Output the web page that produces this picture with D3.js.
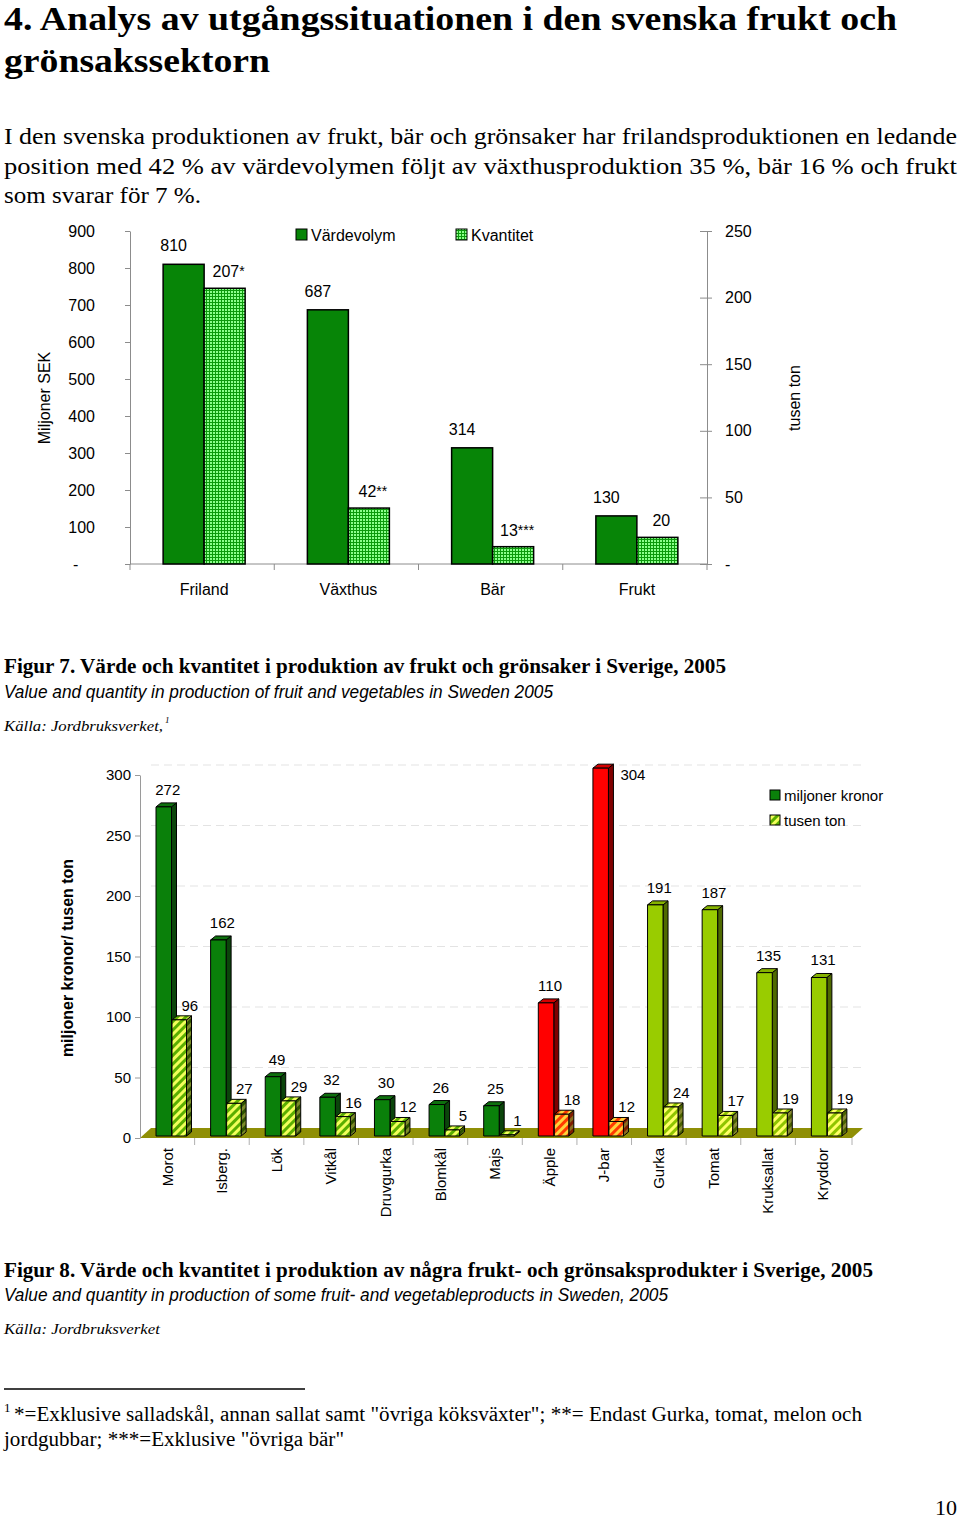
<!DOCTYPE html>
<html><head><meta charset="utf-8">
<script src="https://cdn.jsdelivr.net/npm/d3@7"></script>
<style>body{margin:0;background:#fff}svg{display:block}</style>
</head><body>
<script>
// ---------- text ----------
const titleLines = ["4. Analys av utgångssituationen i den svenska frukt och", "grönsakssektorn"];
const introLines = ["I den svenska produktionen av frukt, bär och grönsaker har frilandsproduktionen en ledande",
  "position med 42 % av värdevolymen följt av växthusproduktion 35 %, bär 16 % och frukt",
  "som svarar för 7 %."];
const caption1 = ["Figur 7. Värde och kvantitet i produktion av frukt och grönsaker i Sverige, 2005",
  "Value and quantity in production of fruit and vegetables in Sweden 2005", "Källa: Jordbruksverket,"];
const caption2 = ["Figur 8. Värde och kvantitet i produktion av några frukt- och grönsaksprodukter i Sverige, 2005",
  "Value and quantity in production of some fruit- and vegetableproducts in Sweden, 2005", "Källa: Jordbruksverket"];
const footnoteLines = ["*=Exklusive salladskål, annan sallat samt \"övriga köksväxter\"; **= Endast Gurka, tomat, melon och",
  "jordgubbar; ***=Exklusive \"övriga bär\""];

// ---------- chart 1 data ----------
const cats1 = ["Friland", "Växthus", "Bär", "Frukt"];
const value1 = [810, 687, 314, 130];
const qty1 = [207, 42, 13, 20];
const qtyNotes1 = ["*", "**", "***", ""];
const leftTicks1 = [0, 100, 200, 300, 400, 500, 600, 700, 800, 900];
const rightTicks1 = [0, 50, 100, 150, 200, 250];
const series1 = ["Värdevolym", "Kvantitet"];

// ---------- chart 2 data ----------
const cats2 = ["Morot", "Isberg.", "Lök", "Vitkål", "Druvgurka", "Blomkål", "Majs", "Äpple", "J-bar", "Gurka", "Tomat", "Kruksallat", "Kryddor"];
const value2 = [272, 162, 49, 32, 30, 26, 25, 110, 304, 191, 187, 135, 131];
const qty2 = [96, 27, 29, 16, 12, 5, 1, 18, 12, 24, 17, 19, 19];
const group2 = ["friland", "friland", "friland", "friland", "friland", "friland", "friland", "frukt", "frukt", "vaxthus", "vaxthus", "vaxthus", "vaxthus"];
const ticks2 = [0, 50, 100, 150, 200, 250, 300];
const series2 = ["miljoner kronor", "tusen ton"];

const W = 960, H = 1521;
const SERIF = "'Liberation Serif','Times New Roman',serif";
const SANS = "'Liberation Sans',Arial,sans-serif";

const svg = d3.select("body").append("svg").attr("width", W).attr("height", H)
  .attr("viewBox", `0 0 ${W} ${H}`);
svg.append("rect").attr("width", W).attr("height", H).attr("fill", "#fff");

function txt(s, x, y, o = {}) {
  const t = svg.append("text").attr("x", x).attr("y", y).text(s)
    .attr("font-family", o.family || SERIF).attr("font-size", o.size || 16)
    .attr("fill", "#000");
  if (o.weight) t.attr("font-weight", o.weight);
  if (o.style) t.attr("font-style", o.style);
  if (o.len) t.attr("textLength", o.len).attr("lengthAdjust", "spacingAndGlyphs");
  if (o.anchor) t.attr("text-anchor", o.anchor);
  return t;
}

// ---------- page text ----------
txt(titleLines[0], 4, 30, {size: 33.5, weight: "bold", len: 893});
txt(titleLines[1], 4, 72, {size: 33.5, weight: "bold", len: 266});
txt(introLines[0], 4, 144, {size: 24, len: 953});
txt(introLines[1], 4, 174, {size: 24, len: 953});
txt(introLines[2], 4, 203, {size: 24, len: 197});

txt(caption1[0], 4, 673, {size: 20, weight: "bold", len: 722});
txt(caption1[1], 4, 698, {size: 18, family: SANS, style: "italic", len: 549});
txt(caption1[2], 4, 731, {size: 15, style: "italic", len: 159});
txt("1", 165, 723, {size: 9, style: "italic"});

txt(caption2[0], 4, 1277, {size: 20, weight: "bold", len: 869});
txt(caption2[1], 4, 1301, {size: 18, family: SANS, style: "italic", len: 664});
txt(caption2[2], 4, 1334, {size: 15, style: "italic", len: 156});

svg.append("line").attr("x1", 4).attr("x2", 305).attr("y1", 1389).attr("y2", 1389)
  .attr("stroke", "#000").attr("stroke-width", 1.3);
txt("1", 4, 1412, {size: 13});
txt(footnoteLines[0], 14, 1421, {size: 20, len: 848});
txt(footnoteLines[1], 4, 1446, {size: 20, len: 340});
txt("10", 957, 1515, {size: 22, anchor: "end"});

// ---------- patterns ----------
const defs = svg.append("defs");
const grid = defs.append("pattern").attr("id", "grid1").attr("patternUnits", "userSpaceOnUse")
  .attr("width", 3).attr("height", 3);
grid.append("rect").attr("width", 3).attr("height", 3).attr("fill", "#0c9a0c");
grid.append("rect").attr("width", 2).attr("height", 2).attr("fill", "#8cff8c");

const pal = {
  friland: {front: "#0a800a", side: "#0b450b", top: "#0e700e", s1: "#5aae00", s2: "#f2ff5a", d1: "#2e5200", d2: "#7d8a2a"},
  frukt:   {front: "#ff0000", side: "#800000", top: "#d40000", s1: "#ff3a00", s2: "#ffd23a", d1: "#801d00", d2: "#8a7020"},
  vaxthus: {front: "#99cc00", side: "#4f6a00", top: "#86b300", s1: "#8fc400", s2: "#ffff66", d1: "#4a6200", d2: "#8a8a35"}
};
function stripe(id, c1, c2) {
  const p = defs.append("pattern").attr("id", id).attr("patternUnits", "userSpaceOnUse")
    .attr("width", 6).attr("height", 6).attr("patternTransform", "rotate(45)");
  p.append("rect").attr("width", 6).attr("height", 6).attr("fill", c1);
  p.append("rect").attr("width", 3).attr("height", 6).attr("fill", c2);
}
Object.entries(pal).forEach(([k, c]) => {
  stripe("st-" + k, c.s1, c.s2);
  stripe("sd-" + k, c.d1, c.d2);
});

// ================= CHART 1 =================
const c1 = svg.append("g");
const x1 = d3.scaleBand().domain(cats1).range([130, 707]);
const yL = d3.scaleLinear().domain([0, 900]).range([564, 231]);
const yR = d3.scaleLinear().domain([0, 250]).range([564, 231]);
const barW1 = 41;
const grpOff = (x1.bandwidth() - 2 * barW1) / 2 + 2;

const axL = c1.append("g").attr("transform", "translate(130,0)")
  .call(d3.axisLeft(yL).tickValues(leftTicks1).tickSize(5).tickSizeOuter(0).tickPadding(30)
    .tickFormat(d => d === 0 ? "-" : d));
const axR = c1.append("g").attr("transform", "translate(707,0)")
  .call(d3.axisRight(yR).tickValues(rightTicks1).tickSize(5).tickSizeOuter(0).tickPadding(13)
    .tickFormat(d => d === 0 ? "-" : d));
[axL, axR].forEach(a => {
  a.attr("font-family", SANS).attr("font-size", 16);
  a.selectAll("path,line").attr("stroke", "#8c8c8c");
  a.selectAll("text").attr("fill", "#000");
});
axL.selectAll(".tick").filter(d => d === 0).select("text").attr("text-anchor", "start").attr("x", -57);
axR.selectAll(".tick line").attr("x1", -7).attr("x2", 5);

// x axis
c1.append("line").attr("x1", 130).attr("x2", 707).attr("y1", 564).attr("y2", 564).attr("stroke", "#8c8c8c");
const bounds1 = cats1.map(c => x1(c)).concat([x1.range()[1]]);
c1.selectAll(".xt").data(bounds1).join("line").attr("x1", d => d).attr("x2", d => d)
  .attr("y1", 564).attr("y2", 570).attr("stroke", "#8c8c8c");
c1.selectAll(".xl").data(cats1).join("text").attr("x", d => x1(d) + x1.bandwidth() / 2 + 2).attr("y", 595)
  .attr("text-anchor", "middle").attr("font-family", SANS).attr("font-size", 16).text(d => d);

// bars
cats1.forEach((c, i) => {
  const xv = x1(c) + grpOff, xq = xv + barW1;
  c1.append("rect").attr("x", xv).attr("y", yL(value1[i])).attr("width", barW1)
    .attr("height", yL(0) - yL(value1[i])).attr("fill", "#078507").attr("stroke", "#000").attr("stroke-width", 1.5);
  c1.append("rect").attr("x", xq).attr("y", yR(qty1[i])).attr("width", barW1)
    .attr("height", yR(0) - yR(qty1[i])).attr("fill", "url(#grid1)").attr("stroke", "#000").attr("stroke-width", 1.5);
  c1.append("text").attr("x", xv + barW1 / 2 - 10).attr("y", yL(value1[i]) - 13).attr("text-anchor", "middle")
    .attr("font-family", SANS).attr("font-size", 16).text(value1[i]);
  const t = c1.append("text").attr("x", xq + barW1 / 2 + 4).attr("y", yR(qty1[i]) - 11).attr("text-anchor", "middle")
    .attr("font-family", SANS).attr("font-size", 16);
  t.append("tspan").text(qty1[i]);
  if (qtyNotes1[i]) t.append("tspan").attr("font-size", 14).attr("dy", -1).text(qtyNotes1[i]);
});

// legend 1
c1.append("rect").attr("x", 296).attr("y", 229).attr("width", 11).attr("height", 11)
  .attr("fill", "#078507").attr("stroke", "#000");
c1.append("text").attr("x", 311).attr("y", 241).attr("font-family", SANS).attr("font-size", 16).text(series1[0]);
c1.append("rect").attr("x", 456).attr("y", 229).attr("width", 11).attr("height", 11)
  .attr("fill", "url(#grid1)").attr("stroke", "#000");
c1.append("text").attr("x", 471).attr("y", 241).attr("font-family", SANS).attr("font-size", 16).text(series1[1]);

// axis titles
c1.append("text").attr("transform", "translate(50,398) rotate(-90)").attr("text-anchor", "middle")
  .attr("font-family", SANS).attr("font-size", 16).text("Miljoner SEK");
c1.append("text").attr("transform", "translate(800,398) rotate(-90)").attr("text-anchor", "middle")
  .attr("font-family", SANS).attr("font-size", 16).text("tusen ton");

// ================= CHART 2 =================
const c2 = svg.append("g");
const x2 = d3.scaleBand().domain(cats2).range([140, 850]);
const y2 = d3.scaleLinear().domain([0, 300]).range([1138, 775]);
const FDX = 11, FDY = 10;   // floor depth
const BDX = 5, BDY = 4;     // bar depth
const bw2 = 15.5;

// back-wall gridlines
c2.selectAll(".g2").data(ticks2.filter(d => d > 0)).join("line")
  .attr("x1", 140 + FDX).attr("x2", 850 + FDX + 2)
  .attr("y1", d => y2(d) - FDY).attr("y2", d => y2(d) - FDY)
  .attr("stroke", "#e3e3e3").attr("stroke-dasharray", "8,5");
// floor
c2.append("path").attr("d", `M140,1138L${850 + 2},1138L${850 + FDX + 2},${1138 - FDY}L${140 + FDX},${1138 - FDY}Z`)
  .attr("fill", "#8f8f06");

const ax2 = c2.append("g").attr("transform", "translate(140,0)")
  .call(d3.axisLeft(y2).tickValues(ticks2).tickSize(5).tickSizeOuter(0).tickPadding(4));
ax2.attr("font-family", SANS).attr("font-size", 15);
ax2.selectAll("path,line").attr("stroke", "#9a9a9a");
ax2.selectAll("text").attr("fill", "#000");

const bounds2 = cats2.slice(1).map(c => x2(c)).concat([x2.range()[1] + 2]);
c2.selectAll(".xt2").data(bounds2).join("line").attr("x1", d => d).attr("x2", d => d)
  .attr("y1", 1138).attr("y2", 1145).attr("stroke", "#b0b0b0");

function bar3d(x, w, yTop, yBase, front, side, top) {
  const g = c2.append("g").attr("stroke", "#000").attr("stroke-width", 1).attr("stroke-linejoin", "round");
  g.append("path").attr("d", `M${x + w},${yTop}L${x + w + BDX},${yTop - BDY}L${x + w + BDX},${yBase - BDY}L${x + w},${yBase}Z`).attr("fill", side);
  g.append("path").attr("d", `M${x},${yTop}L${x + BDX},${yTop - BDY}L${x + w + BDX},${yTop - BDY}L${x + w},${yTop}Z`).attr("fill", top);
  g.append("rect").attr("x", x).attr("y", yTop).attr("width", w).attr("height", Math.max(0.5, yBase - yTop)).attr("fill", front);
}

cats2.forEach((c, i) => {
  const p = pal[group2[i]];
  const xv = x2(c) + 16, xq = xv + bw2 + 0.5;
  const base = y2(0) - 2;
  bar3d(xv, bw2, y2(value2[i]) - 2, base, p.front, p.side, p.top);
  bar3d(xq, bw2 - 1, y2(qty2[i]) - 2, base, `url(#st-${group2[i]})`, `url(#sd-${group2[i]})`, `url(#st-${group2[i]})`);
});
// labels
cats2.forEach((c, i) => {
  const xv = x2(c) + 16, xq = xv + bw2 + 0.5;
  const topV = y2(value2[i]) - 2, topQ = y2(qty2[i]) - 2;
  const lv = c2.append("text").attr("font-family", SANS).attr("font-size", 15).text(value2[i]);
  if (value2[i] > y2.domain()[1]) {
    lv.attr("x", xv + bw2 + BDX + 7).attr("y", topV + 12).attr("text-anchor", "start");
  } else {
    lv.attr("x", xv + bw2 / 2 + 4).attr("y", topV - 12).attr("text-anchor", "middle");
  }
  c2.append("text").attr("font-family", SANS).attr("font-size", 15).text(qty2[i])
    .attr("x", xq + bw2 / 2 + 10).attr("y", topQ - 9).attr("text-anchor", "middle");
  c2.append("text").attr("transform", `translate(${x2(c) + x2.bandwidth() / 2},1148) rotate(-90)`)
    .attr("text-anchor", "end").attr("dy", "0.35em").attr("font-family", SANS).attr("font-size", 15).text(c);
});

// legend 2
c2.append("rect").attr("x", 770).attr("y", 790).attr("width", 10).attr("height", 10)
  .attr("fill", pal.friland.front).attr("stroke", "#000");
c2.append("text").attr("x", 784).attr("y", 801).attr("font-family", SANS).attr("font-size", 15).text(series2[0]);
c2.append("rect").attr("x", 770).attr("y", 815).attr("width", 10).attr("height", 10)
  .attr("fill", "url(#st-friland)").attr("stroke", "#000");
c2.append("text").attr("x", 784).attr("y", 826).attr("font-family", SANS).attr("font-size", 15).text(series2[1]);

c2.append("text").attr("transform", "translate(73,958) rotate(-90)").attr("text-anchor", "middle")
  .attr("font-family", SANS).attr("font-size", 16).attr("font-weight", "bold").text("miljoner kronor/ tusen ton");
</script>
</body></html>
